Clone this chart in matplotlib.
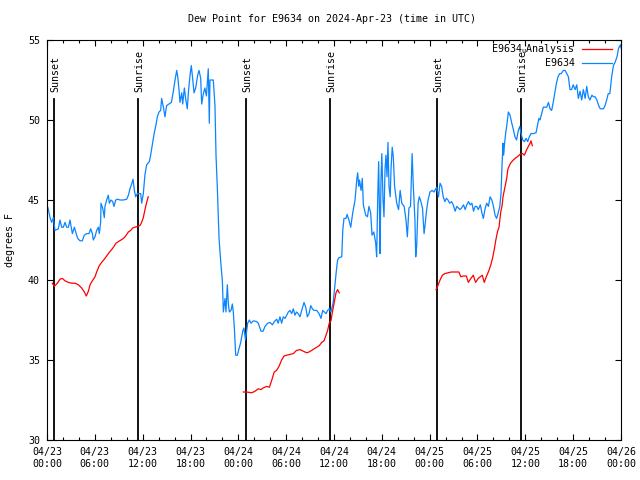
import matplotlib
matplotlib.use("Agg")
import matplotlib.pyplot as plt
from matplotlib.ticker import MultipleLocator, FixedLocator

plt.rcParams['font.family'] = ['DejaVu Sans Mono']
plt.rcParams['mathtext.fontset'] = 'dejavusans'

# ---- data (hours since 2024-04-23 00:00 UTC, dew point in F) ----
obs_hours = [0, 0.17, 0.38, 0.59, 0.8, 1.0, 1.42, 1.63, 1.84, 2.05, 2.26, 2.47, 2.68, 2.89, 3.0,
             3.18, 3.43, 3.6, 3.85, 4.14, 4.43, 4.68, 4.97, 5.27, 5.48, 5.69, 5.81, 6.02, 6.23,
             6.44, 6.56, 6.73, 6.77, 6.98, 7.19, 7.27, 7.48, 7.69, 7.82, 8.03, 8.24, 8.4, 8.62,
             8.87, 9.16, 9.58, 10.0, 10.21, 10.41, 10.62, 10.79, 10.96, 11.12, 11.33, 11.54,
             11.75, 11.88, 12.08, 12.29, 12.5, 12.84, 13.0, 13.2, 13.42, 13.67, 13.84, 14.05,
             14.26, 14.38, 14.6, 14.8, 15.0, 15.3, 15.6, 15.85, 16.06, 16.27, 16.4, 16.56, 16.68,
             16.9, 17.02, 17.23, 17.4, 17.6, 17.73, 17.94, 18.1, 18.27, 18.44, 18.65, 18.9, 19.07,
             19.28, 19.4, 19.6, 19.8, 20.0, 20.23, 20.36, 20.44, 20.66, 20.86, 21.07, 21.2, 21.37,
             21.58, 21.79, 22.0, 22.12, 22.33, 22.45, 22.62, 22.75, 22.87, 23.08, 23.25, 23.37,
             23.5, 23.67, 23.88, 24.08, 24.3, 24.55, 24.7, 24.9, 25.17, 25.38, 25.6, 25.88, 26.3,
             26.5, 26.85, 27.1, 27.35, 27.68, 27.97, 28.27, 28.52, 28.81, 29.0, 29.22, 29.43,
             29.64, 29.85, 30.07, 30.27, 30.48, 30.69, 30.9, 31.1, 31.3, 31.5, 31.74, 31.95,
             32.24, 32.45, 32.66, 32.87, 33.08, 33.28, 33.5, 33.83, 34.12, 34.37, 34.58, 34.8,
             35.0, 35.2, 35.4, 35.62, 35.9, 36.1, 36.3, 36.45, 36.63, 36.97, 37.1, 37.25, 37.5,
             37.65, 37.87, 38.1, 38.22, 38.35, 38.5, 38.64, 38.85, 38.97, 39.1, 39.2, 39.4,
             39.55, 39.68, 39.98, 40.2, 40.38, 40.6, 40.77, 41.0, 41.23, 41.35, 41.48, 41.6,
             41.7, 41.77, 41.9, 42.0, 42.15, 42.27, 42.4, 42.52, 42.65, 42.77, 42.9, 43.05,
             43.15, 43.3, 43.44, 43.6, 43.87, 44.1, 44.3, 44.5, 44.8, 45.03, 45.2, 45.4, 45.6,
             45.8, 45.95, 46.15, 46.25, 46.37, 46.55, 46.7, 46.9, 47.1, 47.3, 47.45, 47.62, 47.8,
             48.04, 48.3, 48.55, 48.88, 49.1, 49.3, 49.5, 49.7, 49.9, 50.1, 50.3, 50.5, 50.75,
             50.95, 51.2, 51.4, 51.6, 51.8, 52.0, 52.25, 52.45, 52.66, 52.87, 53.08, 53.3, 53.5,
             53.7, 53.9, 54.1, 54.35, 54.55, 54.73, 54.95, 55.15, 55.37, 55.58, 55.8, 56.0,
             56.2, 56.4, 56.6, 56.8, 56.95, 57.07, 57.2, 57.28, 57.4, 57.54, 57.66, 57.87, 58.08,
             58.3, 58.5, 58.7, 58.9, 59.1, 59.3, 59.45, 59.67, 59.88, 60.1, 60.3, 60.5, 60.7,
             61.0, 61.34, 61.5, 61.7, 61.84, 62.26, 62.68, 62.9, 63.1, 63.3, 63.5, 63.9, 64.1,
             64.3, 64.5, 64.77, 64.98, 65.2, 65.4, 65.6, 65.8, 66.0, 66.25, 66.45, 66.65, 66.86,
             67.07, 67.28, 67.5, 67.7, 67.9, 68.1, 68.35, 68.55, 68.76, 68.97, 69.2, 69.4, 69.8,
             70.0, 70.2, 70.4, 70.6, 70.83, 71.05, 71.25, 71.5, 71.7, 71.93, 72.0]
obs_dewpt = [44.7, 44.4, 43.9, 43.6, 43.9, 43.1, 43.2, 43.75, 43.3, 43.3, 43.6, 43.3, 43.3, 43.75, 43.4,
             42.9, 43.3, 43.0, 42.6, 42.45, 42.45, 42.8, 42.9, 42.9, 43.2, 42.9, 42.5, 42.7, 43.1,
             43.3, 42.9, 43.6, 44.8, 44.5, 43.9, 44.6, 45.0, 45.3, 44.8, 45.0, 44.9, 44.6, 45.0,
             45.05, 45.0, 45.0, 45.05, 45.3, 45.7, 46.0, 46.3, 45.6, 45.2, 45.4, 45.4,
             45.4, 44.8, 45.4, 46.6, 47.2, 47.4, 47.8, 48.4, 49.1, 49.7, 50.2, 50.5,
             50.6, 51.35, 50.8, 50.2, 50.9, 51.0, 51.1, 51.8, 52.5, 53.1, 52.7, 51.9, 51.1,
             51.7, 51.0, 52.0, 51.3, 50.7, 51.7, 52.8, 53.4, 52.6, 51.7, 52.0, 52.8, 53.1,
             52.6, 51.0, 51.6, 52.0, 51.5, 53.2, 49.8, 52.5, 52.5, 52.5, 50.9, 47.8, 45.7,
             42.6, 41.15, 39.9, 38.0, 38.85, 38.0, 39.7, 38.5, 38.0, 38.1, 38.5, 38.0,
             37.0, 35.3, 35.3, 35.7, 36.1, 36.8, 37.0, 36.25, 37.3, 37.5, 37.3, 37.45, 37.4,
             37.3, 36.8, 36.8, 37.1, 37.3, 37.35, 37.2, 37.4, 37.55, 37.3, 37.7, 37.3,
             37.7, 37.6, 37.8, 38.0, 38.1, 37.9, 38.2, 37.8, 38.0, 37.9, 37.7, 38.1,
             38.6, 38.3, 37.7, 37.9, 38.4, 38.2, 38.1, 38.1, 37.9, 37.6, 38.1, 38.0,
             37.9, 38.1, 38.2, 38.0, 38.6, 39.6, 40.6, 41.25, 41.4, 41.45, 43.1, 43.85, 43.85,
             44.1, 43.75, 43.3, 43.75, 44.2, 44.6, 45.0, 46.25, 46.7, 45.85, 46.25, 45.6,
             46.35, 44.7, 44.05, 43.95, 44.6, 44.2, 42.8, 43.0, 42.3, 41.45, 45.0, 47.4,
             44.4, 41.65, 46.35, 47.9, 45.0, 43.95, 46.9, 47.8, 46.45, 48.6, 45.85, 45.2,
             46.9, 48.3, 47.7, 45.85, 44.8, 44.4, 45.6, 44.8, 44.6, 43.75, 42.7, 44.5, 44.6,
             47.9, 45.85, 43.75, 41.45, 42.1, 44.8, 45.2, 44.9, 44.5, 42.9, 43.55, 44.4, 45.0,
             45.5, 45.6, 45.5, 45.8, 45.2, 46.05, 45.85, 45.2, 44.9, 45.1, 45.0, 44.8, 44.9,
             44.7, 44.3, 44.6, 44.5, 44.4, 44.5, 44.7, 44.4, 44.7, 44.9, 44.7, 44.8, 44.3,
             44.6, 44.6, 44.4, 44.7, 44.2, 43.85, 44.45, 44.8, 44.6, 45.2, 45.0, 44.6,
             44.05, 43.85, 44.2, 44.6, 45.4, 47.1, 48.55, 47.8, 48.55, 49.2, 49.6, 50.5, 50.3,
             49.8, 49.4, 48.95, 48.75, 49.3, 49.6, 49.2, 48.75, 48.65, 48.85, 48.65, 48.95, 49.15,
             49.15, 49.2, 49.6, 50.1, 50.0, 50.8, 50.8, 51.1, 50.7, 50.6, 51.1, 52.3, 52.7,
             52.9, 52.9, 53.1, 53.1, 52.9, 52.7, 51.9, 51.9, 52.2, 51.9, 52.2, 51.35, 51.8,
             51.25, 51.9, 51.35, 52.1, 51.45, 51.25, 51.55, 51.45, 51.45, 51.25, 50.9, 50.7, 50.7,
             50.9, 51.25, 51.65, 51.65, 52.7, 53.4, 53.6, 53.95, 54.5, 54.7, 54.5]

ana1_hours = [0.67, 0.92, 1.3, 1.63, 1.92, 2.26, 2.68, 3.1, 3.51, 3.93, 4.35, 4.68, 4.93, 5.19, 5.4,
              5.69, 6.02, 6.23, 6.56, 6.85, 7.19, 7.48, 7.77, 8.11, 8.4, 8.65, 8.95, 9.28, 9.58,
              9.87, 10.2, 10.5, 10.74, 11.04, 11.37, 11.66, 11.87, 12.08, 12.29, 12.5, 12.7]
ana1_dewpt = [39.8, 39.6, 39.8, 40.05, 40.1, 39.95, 39.85, 39.8, 39.8, 39.7, 39.5, 39.25, 39.0, 39.3, 39.7,
              39.95, 40.2, 40.5, 40.9, 41.1, 41.3, 41.5, 41.7, 41.9, 42.1, 42.3, 42.4, 42.5, 42.6,
              42.75, 43.0, 43.1, 43.25, 43.3, 43.35, 43.4, 43.6, 43.9, 44.4, 44.85, 45.2]
ana2_hours = [24.63, 25.05, 25.68, 26.1, 26.5, 26.85, 27.1, 27.55, 27.9, 28.2, 28.5, 28.8, 29.1, 29.43,
              29.73, 30.07, 30.48, 30.9, 31.3, 31.74, 32.15, 32.57, 32.87, 33.2, 33.5, 33.83, 34.16,
              34.45, 34.75, 35.0, 35.2, 35.4, 35.62, 35.8, 36.03, 36.25, 36.45, 36.66]
ana2_dewpt = [33.0, 33.0, 32.95, 33.05, 33.2, 33.15, 33.25, 33.35, 33.3, 33.75, 34.25, 34.35, 34.6, 35.0,
              35.25, 35.3, 35.35, 35.4, 35.6, 35.65, 35.55, 35.45, 35.5, 35.6, 35.7, 35.8, 35.9,
              36.1, 36.2, 36.55, 36.85, 37.3, 37.45, 38.0, 38.6, 39.2, 39.4, 39.2]
ana3_hours = [48.8, 48.96, 49.3, 49.6, 49.9, 50.3, 50.7, 51.34, 51.67, 51.9, 52.2, 52.6, 52.85, 53.1,
              53.47, 53.76, 54.1, 54.35, 54.6, 54.85, 55.1, 55.4, 55.67, 55.88, 56.1, 56.3, 56.5,
              56.7, 56.9, 57.1, 57.2, 57.4, 57.66, 57.8, 57.95, 58.15, 58.4, 58.7, 59.0, 59.33,
              59.67, 59.88, 60.17, 60.38, 60.6, 60.7, 60.88]
ana3_dewpt = [39.4, 39.55, 40.0, 40.3, 40.4, 40.45, 40.5, 40.5, 40.5, 40.2, 40.25, 40.25, 39.85, 40.05,
              40.3, 39.85, 40.1, 40.2, 40.3, 39.85, 40.2, 40.55, 40.95, 41.35, 41.9, 42.5, 43.0,
              43.3, 44.2, 44.7, 45.2, 45.7, 46.35, 46.9, 47.1, 47.3, 47.45, 47.6, 47.7, 47.85,
              47.9, 47.8, 48.15, 48.35, 48.55, 48.7, 48.4]

sun_hours = [0.93, 11.45, 24.98, 35.53, 48.97, 59.5]
sun_labels = ["Sunset", "Sunrise", "Sunset", "Sunrise", "Sunset", "Sunrise"]

tick_hours = [0, 6, 12, 18, 24, 30, 36, 42, 48, 54, 60, 66, 72]
tick_labels = ["04/23\n00:00", "04/23\n06:00", "04/23\n12:00", "04/23\n18:00",
               "04/24\n00:00", "04/24\n06:00", "04/24\n12:00", "04/24\n18:00",
               "04/25\n00:00", "04/25\n06:00", "04/25\n12:00", "04/25\n18:00",
               "04/26\n00:00"]
y_ticks = [30, 35, 40, 45, 50, 55]

RED = "#ff0000"
BLUE = "#0a84ff"
FS = 7.2

fig = plt.figure(figsize=(6.4, 4.8), dpi=100)
ax = fig.add_axes([47/640, 1 - 440/480, 574/640, 400/480])
ax.set_xlim(0, 72)
ax.set_ylim(30, 55)

for h, lab in zip(sun_hours, sun_labels):
    ax.plot([h, h], [30, 51.3], color="black", lw=1.3, zorder=1)
    ax.text(h + 0.12, 51.75, lab, rotation=90, ha="center", va="bottom", fontsize=FS)

ax.plot(ana1_hours, ana1_dewpt, color=RED, lw=0.9, zorder=3)
ax.plot(ana2_hours, ana2_dewpt, color=RED, lw=0.9, zorder=3)
ax.plot(ana3_hours, ana3_dewpt, color=RED, lw=0.9, zorder=3)
ax.plot(obs_hours, obs_dewpt, color=BLUE, lw=0.9, zorder=2)

# legend
ax.text(0.92, 0.9775, "E9634$_\\mathtt{u}$Analysis", transform=ax.transAxes, ha="right",
        va="center", fontsize=FS)
ax.plot([0.932, 0.984], [0.9775, 0.9775], transform=ax.transAxes, color=RED, lw=0.9)
ax.text(0.92, 0.9425, "E9634", transform=ax.transAxes, ha="right", va="center", fontsize=FS)
ax.plot([0.932, 0.984], [0.9425, 0.9425], transform=ax.transAxes, color=BLUE, lw=0.9)

ax.xaxis.set_major_locator(FixedLocator(tick_hours))
ax.set_xticklabels(tick_labels, fontsize=FS, linespacing=1.3)
ax.xaxis.set_minor_locator(MultipleLocator(2))
ax.set_yticks(y_ticks)
ax.set_yticklabels([str(v) for v in y_ticks], fontsize=FS)
ax.tick_params(which="both", direction="in", top=True, right=True, width=0.8)
ax.tick_params(which="major", length=4.5)
ax.tick_params(which="minor", length=2.5)
ax.tick_params(axis="x", which="major", pad=5)
ax.tick_params(axis="y", which="major", pad=5)
for sp in ax.spines.values():
    sp.set_linewidth(0.8)

fig.text(332/640, 1 - 19/480, "Dew Point for E9634 on 2024-Apr-23 (time in UTC)",
         ha="center", va="center", fontsize=FS)
fig.text(10/640, 0.5, "degrees F", rotation=90, ha="center", va="center", fontsize=FS)

fig.savefig("out.png", dpi=100)
